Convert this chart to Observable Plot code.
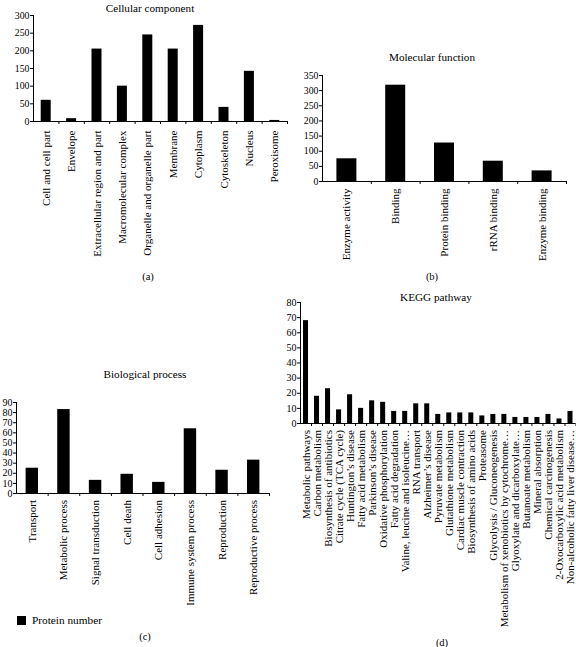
<!DOCTYPE html>
<html>
<head>
<meta charset="utf-8">
<script src="https://cdn.jsdelivr.net/npm/d3@7"></script>
<script src="https://cdn.jsdelivr.net/npm/@observablehq/plot@0.6"></script>
<style>
  html, body { margin: 0; padding: 0; background: #fff; }
  #root { position: relative; width: 576px; height: 647px; overflow: hidden; font-family: "Liberation Serif", "DejaVu Serif", serif; color: #000; }
  .panel { position: absolute; }
  .panel svg { overflow: visible; }
  .panel svg text { font-family: "Liberation Serif", "DejaVu Serif", serif; fill: #000; }
  .panel g[aria-label="y-axis tick label"] text { font-size: 9.8px; }
  .pc g[aria-label="y-axis tick label"] text,
  .pd g[aria-label="y-axis tick label"] text { font-size: 10px; }
  .panel g[aria-label="x-axis tick label"] text { font-size: 11px; }
  .txt { position: absolute; transform: translate(-50%, -50%); white-space: nowrap; font-size: 11.2px; }
  .cap { font-size: 10.5px; }
</style>
</head>
<body>
<div id="root"></div>
<script>
// ---- Data ----
const ccCategories = ["Cell and cell part", "Envelope", "Extracellular region and part", "Macromolecular complex", "Organelle and organelle part", "Membrane", "Cytoplasm", "Cytoskeleton", "Nucleus", "Peroxisome"];
const ccValues = [60, 8, 205, 100, 245, 205, 272, 40, 142, 3];
const ccTicks = [0, 50, 100, 150, 200, 250, 300];

const mfCategories = ["Enzyme activity", "Binding", "Protein binding", "rRNA binding", "Enzyme binding"];
const mfValues = [75, 318, 127, 67, 35];
const mfTicks = [0, 50, 100, 150, 200, 250, 300, 350];

const bpCategories = ["Transport", "Metabolic process", "Signal transduction", "Cell death", "Cell adhesion", "Immune system process", "Reproduction", "Reproductive process"];
const bpValues = [25, 83, 13, 19, 11, 64, 23, 33];
const bpTicks = [0, 10, 20, 30, 40, 50, 60, 70, 80, 90];

const keggCategories = ["Metabolic pathways", "Carbon metabolism", "Biosynthesis of antibiotics", "Citrate cycle (TCA cycle)", "Huntington’s disease", "Fatty acid metabolism", "Parkinson’s disease", "Oxidative phosphorylation", "Fatty acid degradation", "Valine, leucine and isoleucine…", "RNA transport", "Alzheimer’s disease", "Pyruvate metabolism", "Glutathione metabolism", "Cardiac muscle contraction", "Biosynthesis of amino acids", "Proteasome", "Glycolysis / Gluconeogenesis", "Metabolism of xenobiotics by cytochrome…", "Glyoxylate and dicarboxylate…", "Butanoate metabolism", "Mineral absorption", "Chemical carcinogenesis", "2-Oxocarboxylic acid metabolism", "Non-alcoholic fatty liver disease…"];
const keggValues = [68, 18, 23, 9, 19, 10, 15, 14, 8, 8, 13, 13, 6, 7, 7, 7, 5, 6, 6, 4, 4, 4, 6, 3, 8];
const keggTicks = [0, 10, 20, 30, 40, 50, 60, 70, 80];

const titles = ["Cellular component", "Molecular function", "Biological process", "KEGG pathway"];
const captions = ["(a)", "(b)", "(c)", "(d)"];
const legendLabel = "Protein number";

// ---- Rendering ----
const root = document.getElementById("root");

function addText(text, x, y, cls) {
  const d = document.createElement("div");
  d.className = "txt" + (cls ? " " + cls : "");
  d.style.left = x + "px";
  d.style.top = y + "px";
  d.textContent = text;
  root.appendChild(d);
}

function panel(cats, vals, ticks, opt) {
  const n = cats.length;
  const data = vals.map((v, i) => ({i, v}));
  const chart = Plot.plot({
    width: opt.width,
    height: opt.height,
    marginLeft: opt.ml, marginRight: opt.mr, marginTop: opt.mt, marginBottom: opt.mb,
    style: {fontFamily: "'Liberation Serif', 'DejaVu Serif', serif", color: "#000", background: "transparent"},
    x: {domain: [0, n]},
    y: {domain: [ticks[0], ticks[ticks.length - 1]]},
    marks: [
      Plot.rectY(data, {x1: d => d.i, x2: d => d.i + 1, y1: 0, y2: d => d.v, insetLeft: opt.inset, insetRight: opt.inset, fill: "#000"}),
      Plot.axisY({ticks, tickSize: 3, tickPadding: 1, label: null}),
      Plot.axisX({ticks: d3.range(n).map(i => i + 0.5), tickFormat: v => cats[Math.floor(v)], tickRotate: -90, tickSize: 0, tickPadding: opt.pad, label: null}),
      Plot.axisX({ticks: d3.range(1, n + 1), tickSize: 3, tickFormat: () => "", label: null}),
      Plot.ruleX([0], {stroke: "#000", strokeWidth: 1}),
      Plot.ruleY([0], {stroke: "#000", strokeWidth: 1})
    ]
  });
  const wrap = document.createElement("div");
  wrap.className = "panel " + opt.cls;
  wrap.style.left = opt.left + "px";
  wrap.style.top = opt.top + "px";
  wrap.appendChild(chart);
  root.appendChild(wrap);
}

panel(ccCategories, ccValues, ccTicks, {cls: "pa", left: 0, top: 0, width: 290, height: 275, ml: 33, mr: 3, mt: 15, mb: 154, inset: 7.7, pad: 9});
panel(mfCategories, mfValues, mfTicks, {cls: "pb", left: 290, top: 0, width: 286, height: 275, ml: 32, mr: 10, mt: 75, mb: 94, inset: 14.4, pad: 7});
panel(bpCategories, bpValues, bpTicks, {cls: "pc", left: 0, top: 380, width: 290, height: 235, ml: 16, mr: 21, mt: 22, mb: 122, inset: 9.6, pad: 6.5});
panel(keggCategories, keggValues, keggTicks, {cls: "pd", left: 275, top: 290, width: 301, height: 345, ml: 25, mr: 0.5, mt: 12, mb: 212, inset: 3, pad: 6.5});

addText(titles[0], 150, 8);
addText(titles[1], 432, 57);
addText(titles[2], 145, 374);
addText(titles[3], 436, 297);

addText(captions[0], 148, 276, "cap");
addText(captions[1], 432, 276, "cap");
addText(captions[2], 145, 636, "cap");
addText(captions[3], 442, 642, "cap");

// Legend
const sw = document.createElement("div");
sw.style.cssText = "position:absolute;left:17px;top:616px;width:9px;height:9px;background:#000;";
root.appendChild(sw);
const lt = document.createElement("div");
lt.style.cssText = "position:absolute;left:32px;top:620px;transform:translateY(-50%);font-size:11.3px;white-space:nowrap;";
lt.textContent = legendLabel;
root.appendChild(lt);
</script>
</body>
</html>
